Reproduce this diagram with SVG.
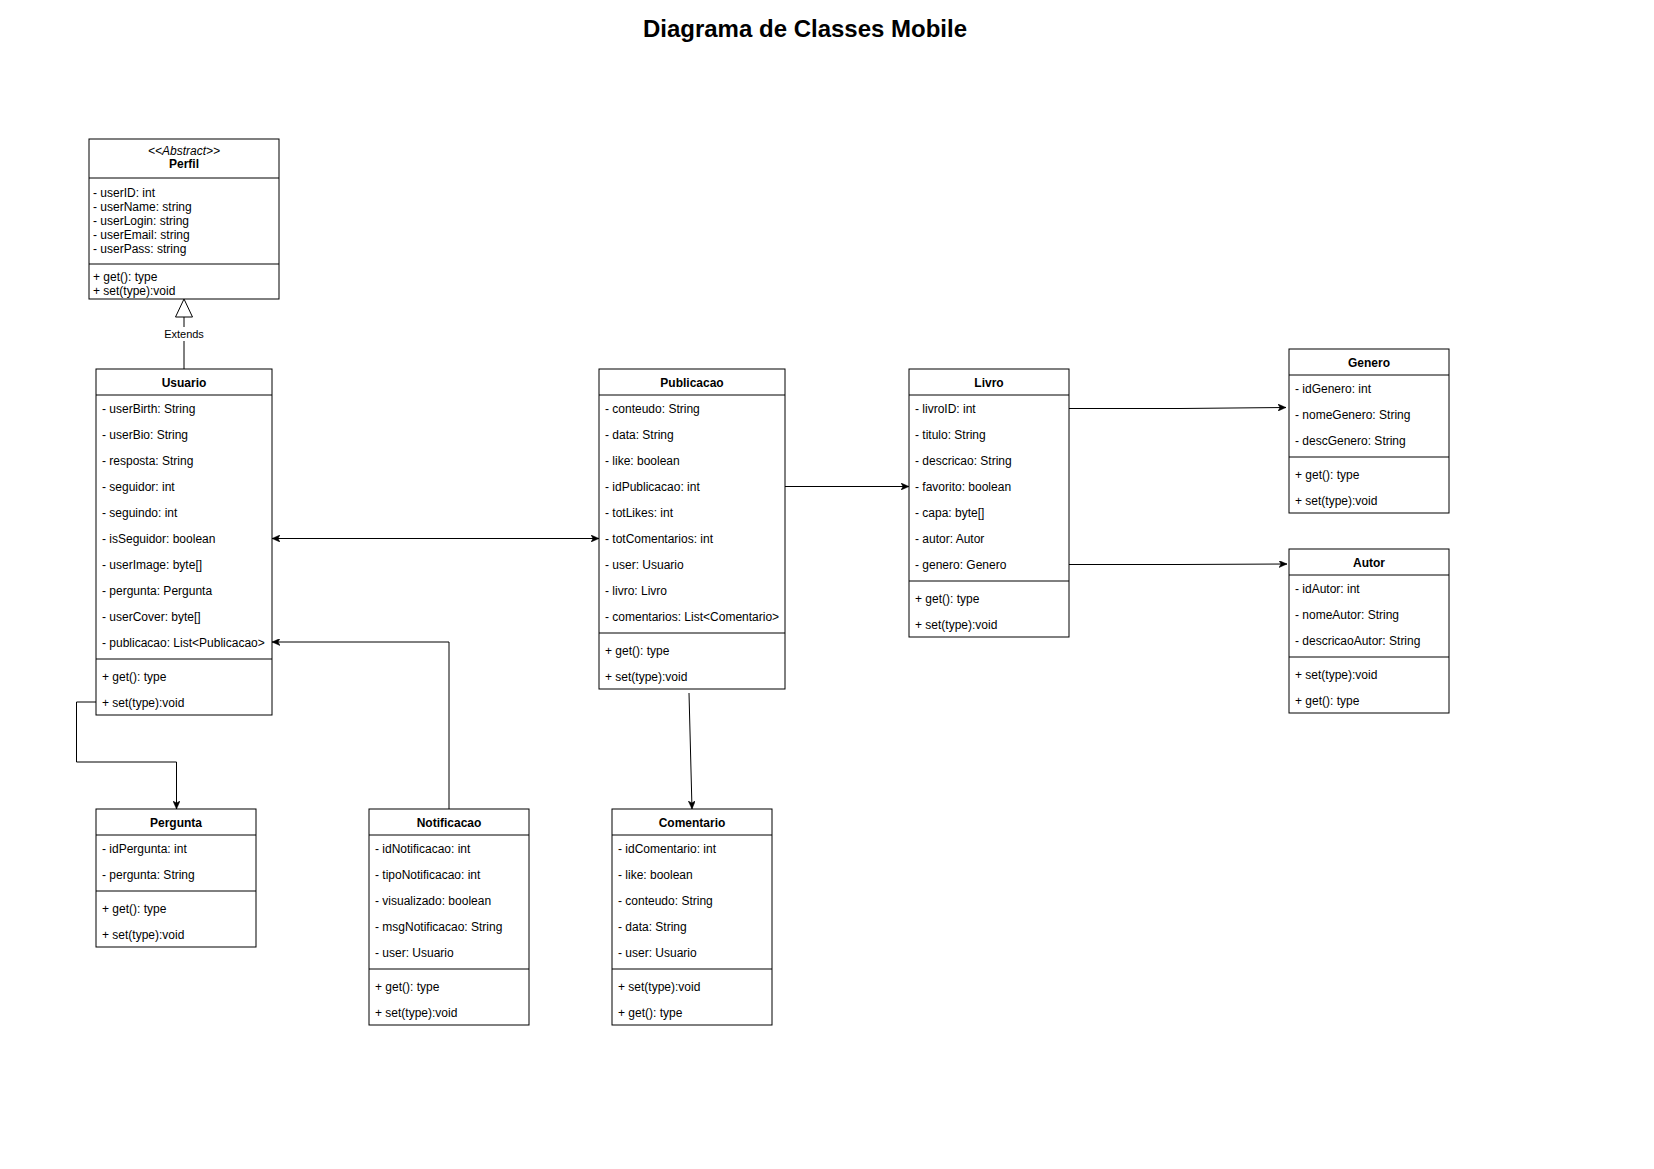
<svg xmlns="http://www.w3.org/2000/svg" width="1654" height="1169" viewBox="0 0 1654 1169">
<style>
  text { font-family: "Liberation Sans", Arial, Helvetica, sans-serif; font-size: 12px; fill: #000; }
  .title { font-size: 24px; font-weight: bold; text-anchor: middle; }
  .hdr { font-weight: bold; text-anchor: middle; }
  .ster { font-style: italic; text-anchor: middle; }
  .lbl { font-size: 11px; text-anchor: middle; }
  .box { fill: #fff; stroke: #000; stroke-width: 1; }
  .sep { stroke: #000; stroke-width: 1; fill: none; }
  .edge { fill: none; stroke: #000; stroke-width: 1; }
</style>
<defs>
  <marker id="arr" viewBox="0 0 8 7" refX="8" refY="3.5" markerWidth="8" markerHeight="7" markerUnits="userSpaceOnUse" orient="auto-start-reverse">
    <path d="M0,0 L8,3.5 L0,7 L2,3.5 Z" fill="#000" stroke="#000" stroke-width="0.5"/>
  </marker>
</defs>
<rect width="1654" height="1169" fill="#fff"/>
<text class="title" x="805" y="37">Diagrama de Classes Mobile</text>

<g id="connectors">
  <path class="edge" d="M184,369 V317"/>
  <polygon points="184,299 175.5,317 192.5,317" fill="#fff" stroke="#000" stroke-width="1"/>
  <rect x="163" y="327" width="42" height="14" fill="#fff"/>
  <text class="lbl" x="184" y="338">Extends</text>
  <path class="edge" d="M272,538.5 H599" marker-start="url(#arr)" marker-end="url(#arr)"/>
  <path class="edge" d="M449,809 V642 H272" marker-end="url(#arr)"/>
  <path class="edge" d="M96,702 H76.5 V762 H176.5 V809" marker-end="url(#arr)"/>
  <path class="edge" d="M785,486.5 H909" marker-end="url(#arr)"/>
  <path class="edge" d="M1069,408.5 H1180 L1286,407.5" marker-end="url(#arr)"/>
  <path class="edge" d="M1069,564.5 H1180 L1287,564" marker-end="url(#arr)"/>
  <path class="edge" d="M689,693 L692,809" marker-end="url(#arr)"/>
</g>

<g id="Perfil">
  <rect class="box" x="89" y="139" width="190" height="160"/>
  <path class="sep" d="M89,178 H279 M89,264 H279"/>
  <text class="ster" x="184" y="154.5">&lt;&lt;Abstract&gt;&gt;</text>
  <text class="hdr" x="184" y="168">Perfil</text>
  <text x="93" y="196.5">- userID: int</text>
  <text x="93" y="210.7">- userName: string</text>
  <text x="93" y="224.9">- userLogin: string</text>
  <text x="93" y="239.1">- userEmail: string</text>
  <text x="93" y="253.3">- userPass: string</text>
  <text x="93" y="280.8">+ get(): type</text>
  <text x="93" y="295.3">+ set(type):void</text>
</g>

<g id="Usuario">
  <rect class="box" x="96" y="369" width="176" height="346"/>
  <path class="sep" d="M96,395 H272 M96,659 H272"/>
  <text class="hdr" x="184" y="386.5">Usuario</text>
  <text x="102" y="413">- userBirth: String</text>
  <text x="102" y="439">- userBio: String</text>
  <text x="102" y="465">- resposta: String</text>
  <text x="102" y="491">- seguidor: int</text>
  <text x="102" y="517">- seguindo: int</text>
  <text x="102" y="543">- isSeguidor: boolean</text>
  <text x="102" y="569">- userImage: byte[]</text>
  <text x="102" y="595">- pergunta: Pergunta</text>
  <text x="102" y="621">- userCover: byte[]</text>
  <text x="102" y="647">- publicacao: List&lt;Publicacao&gt;</text>
  <text x="102" y="681">+ get(): type</text>
  <text x="102" y="707">+ set(type):void</text>
</g>

<g id="Publicacao">
  <rect class="box" x="599" y="369" width="186" height="320"/>
  <path class="sep" d="M599,395 H785 M599,633 H785"/>
  <text class="hdr" x="692" y="386.5">Publicacao</text>
  <text x="605" y="413">- conteudo: String</text>
  <text x="605" y="439">- data: String</text>
  <text x="605" y="465">- like: boolean</text>
  <text x="605" y="491">- idPublicacao: int</text>
  <text x="605" y="517">- totLikes: int</text>
  <text x="605" y="543">- totComentarios: int</text>
  <text x="605" y="569">- user: Usuario</text>
  <text x="605" y="595">- livro: Livro</text>
  <text x="605" y="621">- comentarios: List&lt;Comentario&gt;</text>
  <text x="605" y="655">+ get(): type</text>
  <text x="605" y="681">+ set(type):void</text>
</g>

<g id="Livro">
  <rect class="box" x="909" y="369" width="160" height="268"/>
  <path class="sep" d="M909,395 H1069 M909,581 H1069"/>
  <text class="hdr" x="989" y="386.5">Livro</text>
  <text x="915" y="413">- livroID: int</text>
  <text x="915" y="439">- titulo: String</text>
  <text x="915" y="465">- descricao: String</text>
  <text x="915" y="491">- favorito: boolean</text>
  <text x="915" y="517">- capa: byte[]</text>
  <text x="915" y="543">- autor: Autor</text>
  <text x="915" y="569">- genero: Genero</text>
  <text x="915" y="603">+ get(): type</text>
  <text x="915" y="629">+ set(type):void</text>
</g>

<g id="Genero">
  <rect class="box" x="1289" y="349" width="160" height="164"/>
  <path class="sep" d="M1289,375 H1449 M1289,457 H1449"/>
  <text class="hdr" x="1369" y="366.5">Genero</text>
  <text x="1295" y="393">- idGenero: int</text>
  <text x="1295" y="419">- nomeGenero: String</text>
  <text x="1295" y="445">- descGenero: String</text>
  <text x="1295" y="479">+ get(): type</text>
  <text x="1295" y="505">+ set(type):void</text>
</g>

<g id="Autor">
  <rect class="box" x="1289" y="549" width="160" height="164"/>
  <path class="sep" d="M1289,575 H1449 M1289,657 H1449"/>
  <text class="hdr" x="1369" y="566.5">Autor</text>
  <text x="1295" y="593">- idAutor: int</text>
  <text x="1295" y="619">- nomeAutor: String</text>
  <text x="1295" y="645">- descricaoAutor: String</text>
  <text x="1295" y="679">+ set(type):void</text>
  <text x="1295" y="705">+ get(): type</text>
</g>

<g id="Pergunta">
  <rect class="box" x="96" y="809" width="160" height="138"/>
  <path class="sep" d="M96,835 H256 M96,891 H256"/>
  <text class="hdr" x="176" y="826.5">Pergunta</text>
  <text x="102" y="853">- idPergunta: int</text>
  <text x="102" y="879">- pergunta: String</text>
  <text x="102" y="913">+ get(): type</text>
  <text x="102" y="939">+ set(type):void</text>
</g>

<g id="Notificacao">
  <rect class="box" x="369" y="809" width="160" height="216"/>
  <path class="sep" d="M369,835 H529 M369,969 H529"/>
  <text class="hdr" x="449" y="826.5">Notificacao</text>
  <text x="375" y="853">- idNotificacao: int</text>
  <text x="375" y="879">- tipoNotificacao: int</text>
  <text x="375" y="905">- visualizado: boolean</text>
  <text x="375" y="931">- msgNotificacao: String</text>
  <text x="375" y="957">- user: Usuario</text>
  <text x="375" y="991">+ get(): type</text>
  <text x="375" y="1017">+ set(type):void</text>
</g>

<g id="Comentario">
  <rect class="box" x="612" y="809" width="160" height="216"/>
  <path class="sep" d="M612,835 H772 M612,969 H772"/>
  <text class="hdr" x="692" y="826.5">Comentario</text>
  <text x="618" y="853">- idComentario: int</text>
  <text x="618" y="879">- like: boolean</text>
  <text x="618" y="905">- conteudo: String</text>
  <text x="618" y="931">- data: String</text>
  <text x="618" y="957">- user: Usuario</text>
  <text x="618" y="991">+ set(type):void</text>
  <text x="618" y="1017">+ get(): type</text>
</g>
</svg>
